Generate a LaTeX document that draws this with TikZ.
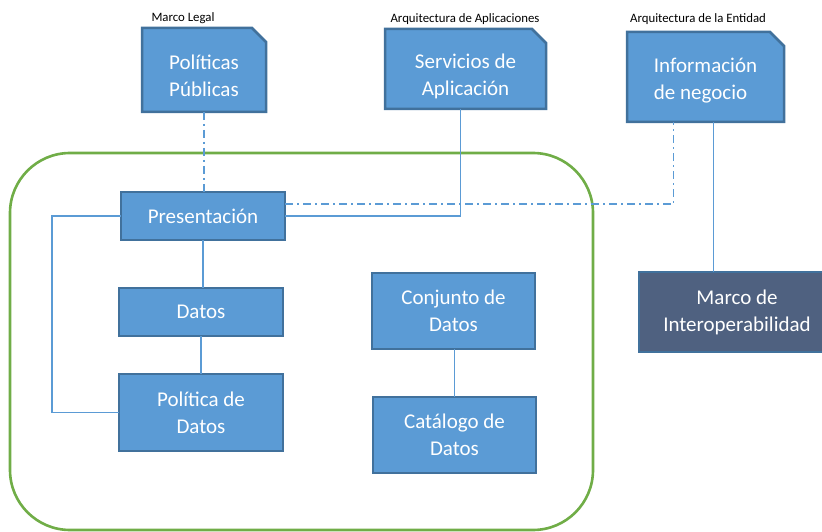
\documentclass[tikz,border=0pt]{standalone}
\usepackage{fontspec}
\setmainfont{Carlito}
\definecolor{boxfill}{HTML}{5B9BD5}
\definecolor{boxline}{HTML}{41719C}
\definecolor{darkfill}{HTML}{4F6180}
\definecolor{grn}{HTML}{70AD47}
\tikzset{
  bx/.style={draw=boxline, fill=boxfill, line width=2.5pt, text=white, align=center,
    anchor=north west, outer sep=0pt, inner sep=0pt,
    font=\fontsize{21}{27}\selectfont},
  hold/.style={anchor=north west, outer sep=0pt, inner sep=0pt},
  chpath/.style={draw=boxline, fill=boxfill, line width=2.5pt, line join=miter},
  btxt/.style={text=white, align=center, inner sep=0pt, font=\fontsize{21}{27}\selectfont},
  lbl/.style={font=\fontsize{12.8}{15}\selectfont, inner sep=0pt},
  conn/.style={draw=boxfill, line width=1.6pt},
  dd/.style={conn, dash pattern=on 8pt off 4pt on 2pt off 4pt},
}
\newcommand{\chamf}[1]{\path[chpath] (#1.south west) -- (#1.north west) -- ([xshift=-14pt]#1.north east) -- ([yshift=-14pt]#1.north east) -- (#1.south east) -- cycle;}
\begin{document}
\begin{tikzpicture}[x=1pt,y=-1pt]
\useasboundingbox (0,0) rectangle (822,532);
% frame
\node[draw=grn, line width=2.6pt, rounded corners=60pt, minimum width=583pt, minimum height=377pt,
  anchor=north west, inner sep=0pt, outer sep=0pt] (frame) at (10,153) {};
% top boxes
\node[hold, minimum width=124pt, minimum height=84pt] (pp) at (142,28) {};
\chamf{pp}
\node[btxt] (ppt) at ([yshift=-6pt]pp.center) {Políticas\\Públicas};
\node[hold, minimum width=161pt, minimum height=80pt] (serv) at (385,29) {};
\chamf{serv}
\node[btxt] (servt) at ([yshift=-7pt]serv.center) {Servicios de\\Aplicación};
\node[hold, minimum width=157pt, minimum height=90pt] (info) at (627,32) {};
\chamf{info}
\node[btxt, align=left] (infot) at ([yshift=-4pt]info.center) {Información\\de negocio};
% labels
\node[lbl] (l1) at (183,18) {Marco Legal};
\node[lbl] (l2) at (465,19) {Arquitectura de Aplicaciones};
\node[lbl] (l3) at (698,19) {Arquitectura de la Entidad};
% inner boxes
\node[bx, minimum width=164pt, minimum height=48pt] (pres) at (121,192) {Presentación};
\node[bx, minimum width=164pt, minimum height=48pt] (datos) at (119,288) {Datos};
\node[bx, minimum width=164pt, minimum height=77pt] (pol) at (119,374) {Política de\\Datos};
\node[bx, minimum width=163pt, minimum height=76pt] (conj) at (372,273) {Conjunto de\\Datos};
\node[bx, minimum width=163pt, minimum height=76pt] (cat) at (373,397) {Catálogo de\\Datos};
\node[bx, fill=darkfill, minimum width=196pt, minimum height=80pt] (marco) at (639,272) {Marco de\\Interoperabilidad};
% connectors
\draw[dd] (pp.south) -- (pp.south |- pres.north);
\draw[conn] (pres.south) -- (pres.south |- datos.north);
\draw[conn] (datos.south) -- (datos.south |- pol.north);
\draw[conn] (pres.west) -- ++(-69,0) |- (pol.west);
\draw[conn] (pres.east) -| ([xshift=-5pt]serv.south);
\draw[dd] ([yshift=12pt]pres.east) -| ([xshift=-32pt]info.south);
\draw[conn] ([xshift=8pt]info.south) -- ([xshift=8pt]info.south |- marco.north);
\draw[conn] (conj.south -| cat.north) -- (cat.north);
\end{tikzpicture}
\end{document}
